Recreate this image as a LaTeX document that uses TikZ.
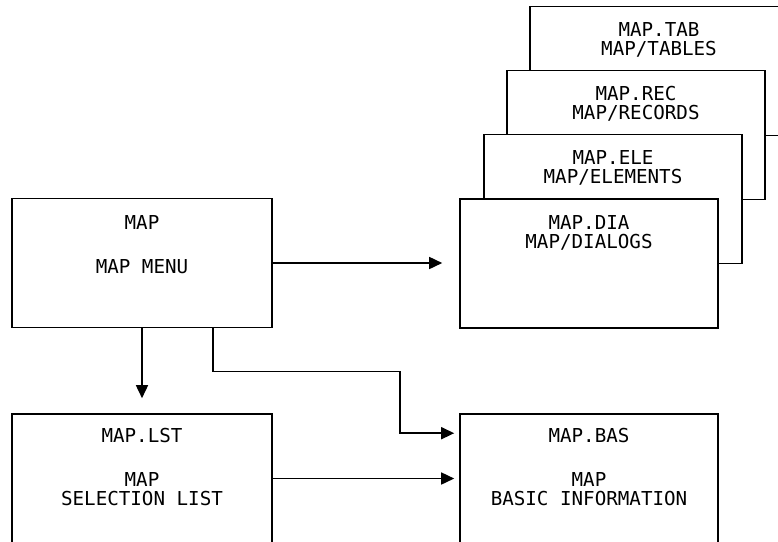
\documentclass[tikz,border=0pt]{standalone}
\usepackage{fontspec}
\setmonofont{DejaVu Sans Mono}
\usepackage{tikz}
\usetikzlibrary{arrows.meta,positioning,calc}

\begin{document}
\begin{tikzpicture}[
    x=1pt, y=-1pt,
    box/.style={rectangle, draw, line width=1.6pt, fill=white, inner sep=0pt,
        minimum width=258pt, minimum height=129pt, align=center,
        font=\ttfamily\fontsize{19.2}{19}\selectfont, text height=49pt, text depth=80pt},
    arrow/.style={-{Triangle[length=13pt,width=12pt]}, line width=1.6pt}
]
    \useasboundingbox (0,0) rectangle (778,541);

    % map menu and the four map screens behind it
    \node[box, minimum width=260pt, text height=75pt, text depth=54pt] (map) at (142,263)
        {MAP\\[25pt]MAP MENU};
    \node[box] (tab) at (659,71) {MAP.TAB\\MAP/TABLES};
    \node[box] (rec) at (636,135) {MAP.REC\\MAP/RECORDS};
    \node[box] (ele) at (613,199) {MAP.ELE\\MAP/ELEMENTS};
    \node[box] (dia) at (589,263.5) {MAP.DIA\\MAP/DIALOGS};

    % list and basic information
    \node[box, minimum width=260pt, text height=91pt, text depth=38pt] (lst) at (142,478.5)
        {MAP.LST\\[25pt]MAP\\SELECTION LIST};
    \node[box, text height=91pt, text depth=38pt] (bas) at (589,478.5)
        {MAP.BAS\\[25pt]MAP\\BASIC INFORMATION};

    \draw[arrow, shorten >=17pt] (map.east) -- (map.east -| dia.west);
    \draw[arrow, shorten >=15pt] (map.south) -- (lst.north);
    \draw[arrow, shorten >=5pt] ($(map.south)+(71,0)$) -- ++(0,43) -| ($(bas.north west)+(-59,20)$) -- ($(bas.north west)+(0,20)$);
    \draw[arrow, shorten >=5pt] (lst.east) -- (bas.west);
\end{tikzpicture}
\end{document}
